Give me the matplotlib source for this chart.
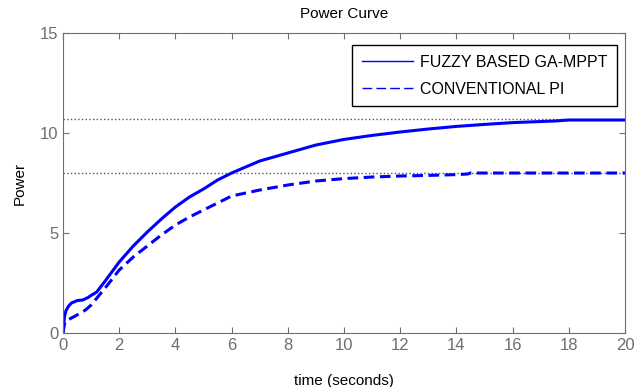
import numpy as np
import matplotlib.pyplot as plt
from matplotlib.lines import Line2D

plt.rcParams['font.family'] = ['Liberation Sans', 'DejaVu Sans']

# time (s) and power
t_fuzzy = [0, 0.05, 0.1, 0.2, 0.3, 0.5, 0.7, 0.9, 1.0, 1.2, 1.5, 2.0, 2.5, 3.0, 3.5, 4.0,
           4.5, 5.0, 5.5, 6.0, 7.0, 8.0, 9.0, 10.0, 11.0, 12.0, 13.0, 14.0, 15.0,
           16.0, 17.5, 18.0, 20.0]
p_fuzzy = [0, 0.8, 1.1, 1.35, 1.5, 1.62, 1.65, 1.78, 1.88, 2.05, 2.6, 3.55, 4.35, 5.05, 5.7, 6.3,
           6.8, 7.2, 7.65, 8.0, 8.6, 9.0, 9.4, 9.68, 9.88, 10.05, 10.2, 10.33, 10.43,
           10.52, 10.6, 10.65, 10.65]

t_pi = [0, 0.05, 0.1, 0.3, 0.5, 0.8, 1.0, 1.5, 2.0, 2.5, 3.0, 3.5, 4.0, 4.5, 5.0, 5.5,
        6.0, 7.0, 8.0, 9.0, 10.0, 11.0, 12.0, 13.0, 14.0, 14.4, 14.5, 20.0]
p_pi = [0, 0.45, 0.6, 0.75, 0.9, 1.15, 1.4, 2.25, 3.15, 3.8, 4.35, 4.9, 5.4, 5.8, 6.15, 6.5,
        6.85, 7.15, 7.4, 7.6, 7.72, 7.8, 7.85, 7.88, 7.92, 7.95, 8.0, 8.0]

ref_levels = [10.7, 8.0]

fig = plt.figure(figsize=(6.34, 3.87), dpi=100)
ax = fig.add_axes([0.0994, 0.1395, 0.8864, 0.7752])

for lvl in ref_levels:
    ax.axhline(lvl, color='#555555', linestyle=':', linewidth=1)

ax.plot(t_fuzzy, p_fuzzy, color='blue', linewidth=2.2)
ax.plot(t_pi, p_pi, color='blue', linewidth=2.2, linestyle=(0, (3.5, 1.8)))

ax.set_xlim(0, 20)
ax.set_ylim(0, 15)
ax.set_xticks(np.arange(0, 21, 2))
ax.set_yticks([0, 5, 10, 15])

gray = '#6e6e6e'
for s in ax.spines.values():
    s.set_color(gray)
ax.tick_params(direction='in', top=True, right=True, colors=gray,
               labelsize=12, length=4)

ax.set_title('Power Curve', fontsize=11, color='black', pad=11)
ax.set_ylabel('Power', fontsize=11, color='black', labelpad=9)
# the reference shows this label clipped by the bottom edge
ax.set_xlabel('time (seconds)', fontsize=11, color='black', labelpad=15)

handles = [Line2D([], [], color='blue', linewidth=1),
           Line2D([], [], color='blue', linewidth=1, linestyle=(0, (7, 3)))]
leg = ax.legend(handles, ['FUZZY BASED GA-MPPT', 'CONVENTIONAL PI'],
                loc='upper right', fontsize=11.5, fancybox=False, framealpha=1,
                edgecolor='black', handlelength=3.2, handletextpad=0.45,
                labelspacing=0.75, borderpad=0.6,
                bbox_to_anchor=(0.986, 0.96), borderaxespad=0)
leg.get_frame().set_linewidth(1)

fig.savefig('out.png', dpi=100)
